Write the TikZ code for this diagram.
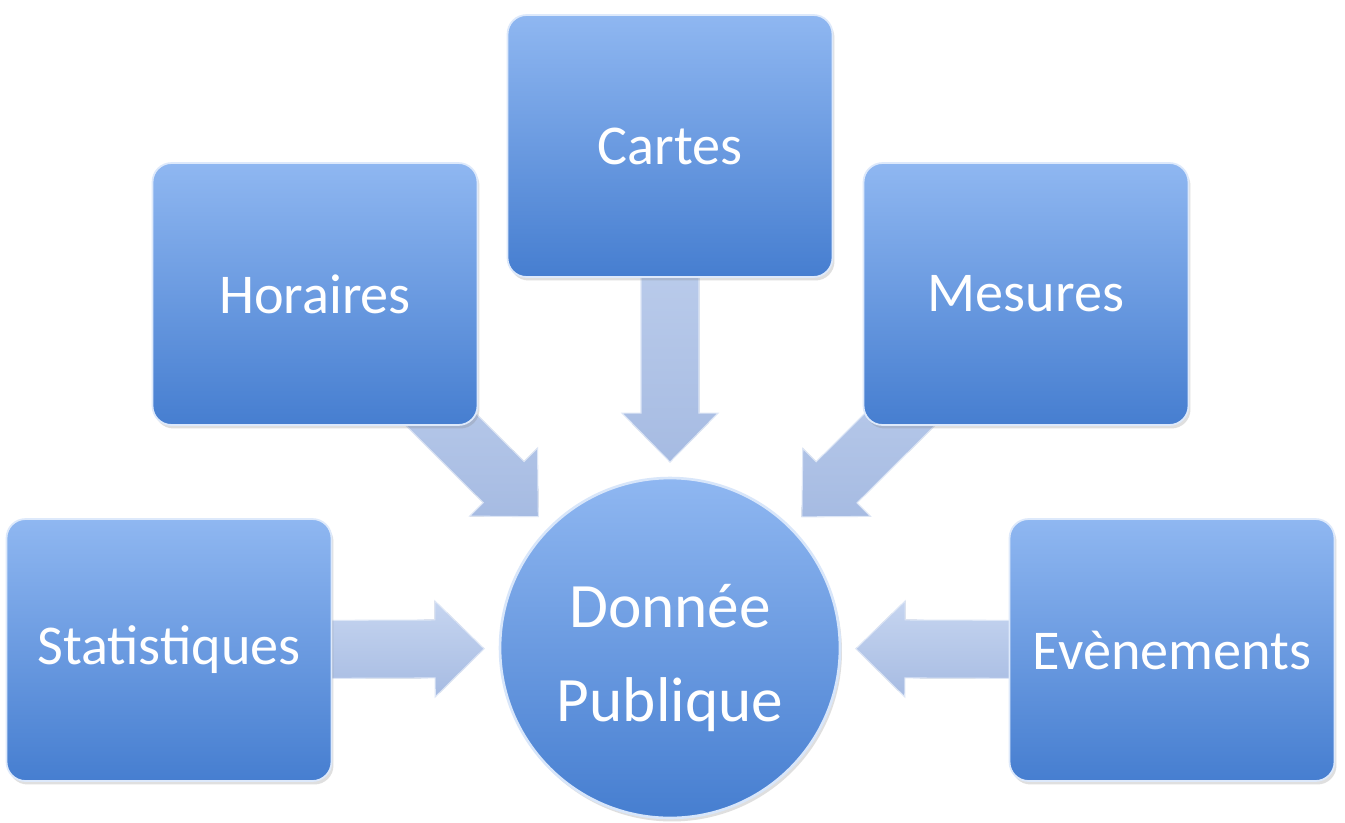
\documentclass[tikz,border=0pt]{standalone}
\usepackage{fontspec}
\setmainfont{Carlito}
\usetikzlibrary{calc,shadows,backgrounds}

\definecolor{boxtop}{RGB}{143,183,241}
\definecolor{boxbot}{RGB}{70,126,208}
\definecolor{flowtop}{RGB}{198,213,240}
\definecolor{flowbot}{RGB}{166,187,226}

\newcommand{\shaftw}{0.58cm}
\newcommand{\headw}{0.96cm}
\newcommand{\headl}{0.98cm}
\newcommand{\flowarrow}[2]{%
        \fill[flow] let \p1=($(#2)-(#1)$), \n1={atan2(\y1,\x1)} in
                ($(#1)+(\n1+90:\shaftw)$)
                -- ($(#2)+(\n1+180:\headl)+(\n1+90:\shaftw)$)
                -- ($(#2)+(\n1+180:\headl)+(\n1+90:\headw)$)
                -- (#2)
                -- ($(#2)+(\n1+180:\headl)+(\n1-90:\headw)$)
                -- ($(#2)+(\n1+180:\headl)+(\n1-90:\shaftw)$)
                -- ($(#1)+(\n1-90:\shaftw)$) -- cycle;}

\tikzset{
        datbox/.style={rectangle, rounded corners=0.38cm, minimum width=6.5cm, minimum height=5.24cm,
                top color=boxtop, bottom color=boxbot, draw=white!70!boxtop, line width=1pt,
                text=white, font=\fontsize{32}{38}\selectfont,
                drop shadow={opacity=0.25, shadow xshift=0.04cm, shadow yshift=-0.07cm}},
        pubcircle/.style={circle, minimum size=6.8cm, inner sep=0pt,
                top color=boxtop, bottom color=boxbot, draw=white!65!boxtop, line width=1.5pt,
                drop shadow={opacity=0.25, shadow xshift=0.04cm, shadow yshift=-0.07cm}},
        pubtext/.style={text=white, align=center, font=\fontsize{36}{54}\selectfont},
        flow/.style={top color=flowtop, bottom color=flowbot, draw=white!40!flowtop, line width=0.6pt}
}

\begin{document}
\begin{tikzpicture}[x=0.02cm, y=-0.02cm]
        \useasboundingbox (0,0) rectangle (1345,822);
        \node[pubcircle] (pub) at (670,648) {};
        \node[pubtext] (pubt) at ($(pub)+(0,10)$) {Donnée\\Publique};
        \node[datbox] (cartes) at (670,146) {Cartes};
        \node[datbox] (hor) at (315,294) {Horaires};
        \node[datbox] (mes) at (1026,294) {Mesures};
        \node[datbox] (stat) at (169,650) {Statistiques};
        \node[datbox] (evt) at (1172,650) {Evènements};
        \begin{pgfonlayer}{background}
                \fill[white] (0,0) rectangle (1345,822);
                \foreach \src/\tip in {cartes/tipC, hor/tipH, mes/tipM, stat/tipS, evt/tipE} {
                        \coordinate (\tip) at ($(pub)!3.72cm!(\src)$);
                        \flowarrow{\src}{\tip}
                }
        \end{pgfonlayer}
\end{tikzpicture}
\end{document}
